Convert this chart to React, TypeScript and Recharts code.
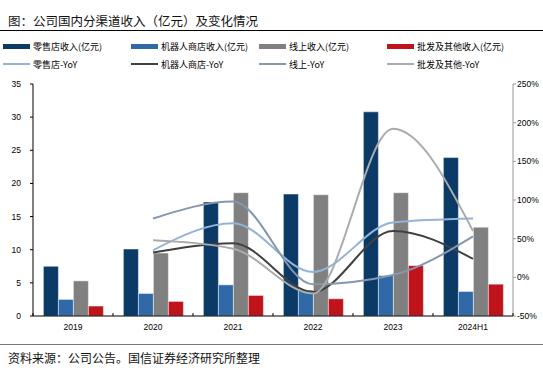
import {
  ComposedChart,
  Bar,
  Line,
  XAxis,
  YAxis,
} from 'recharts';

/* ------------------------------------------------------------------ */
/*  Data                                                               */
/* ------------------------------------------------------------------ */

const YEARS = ['2019', '2020', '2021', '2022', '2023', '2024H1'];

// 收入（亿元）
const RETAIL_REV = [7.5, 10.1, 17.2, 18.4, 30.8, 23.9];
const ROBOT_REV = [2.5, 3.4, 4.7, 3.9, 6.1, 3.7];
const ONLINE_REV = [5.3, 9.5, 18.6, 18.3, 18.6, 13.4];
const WHOLESALE_REV = [1.5, 2.2, 3.1, 2.6, 7.6, 4.8];

// YoY（%）
const RETAIL_YOY = [null, 35, 70, 7, 71, 76];
const ROBOT_YOY = [null, 32, 44, -19, 60, 24];
const ONLINE_YOY = [null, 76, 98, -9, 3, 53];
const WHOLESALE_YOY = [null, 48, 37, -21, 192, 60];

const LEFT_TICKS = [0, 5, 10, 15, 20, 25, 30, 35];
const RIGHT_TICKS = [-50, 0, 50, 100, 150, 200, 250];

const chartData = YEARS.map((year, i) => ({
  year,
  retail: RETAIL_REV[i],
  robot: ROBOT_REV[i],
  online: ONLINE_REV[i],
  wholesale: WHOLESALE_REV[i],
  retailYoy: RETAIL_YOY[i],
  robotYoy: ROBOT_YOY[i],
  onlineYoy: ONLINE_YOY[i],
  wholesaleYoy: WHOLESALE_YOY[i],
}));

/* ------------------------------------------------------------------ */
/*  Series config                                                      */
/* ------------------------------------------------------------------ */

const BARS = [
  { key: 'retail', name: '零售店收入(亿元)', color: '#0B3A67' },
  { key: 'robot', name: '机器人商店收入(亿元)', color: '#2F69A8' },
  { key: 'online', name: '线上收入(亿元)', color: '#808080' },
  { key: 'wholesale', name: '批发及其他收入(亿元)', color: '#C0141D' },
];

const LINES = [
  { key: 'retailYoy', name: '零售店-YoY', color: '#93B3D8' },
  { key: 'robotYoy', name: '机器人商店-YoY', color: '#404040' },
  { key: 'onlineYoy', name: '线上-YoY', color: '#8596AE' },
  { key: 'wholesaleYoy', name: '批发及其他-YoY', color: '#ABABAB' },
];

const LEGEND_X = [3, 131, 259, 387];

const CJK = '"Noto Sans CJK SC", "Noto Sans", sans-serif';
const LATIN = '"Liberation Sans", Arial, sans-serif';

/* ------------------------------------------------------------------ */
/*  X axis tick with category-boundary marks                           */
/* ------------------------------------------------------------------ */

function YearTick(props: any) {
  const { x, y, payload, index } = props;
  const half = payload.offset ?? 40;
  const axisY = y - 8;
  return (
    <g>
      <line x1={x - half} x2={x - half} y1={axisY} y2={axisY - 3} stroke="#000" />
      {index === YEARS.length - 1 && (
        <line x1={x + half} x2={x + half} y1={axisY} y2={axisY - 3} stroke="#000" />
      )}
      <text x={x} y={y + 6} textAnchor="middle" fontSize={8.5} fontFamily={LATIN} fill="#000">
        {payload.value}
      </text>
    </g>
  );
}

/* ------------------------------------------------------------------ */
/*  Component                                                          */
/* ------------------------------------------------------------------ */

export default function App() {
  return (
    <div style={{ position: 'relative', width: 543, height: 368, background: '#fff', fontFamily: CJK }}>
      <style>{'body{margin:0}'}</style>

      {/* title */}
      <div style={{ position: 'absolute', left: 8, top: 12, fontSize: 12.5, lineHeight: '18px', color: '#111' }}>
        图：公司国内分渠道收入（亿元）及变化情况
      </div>
      <div style={{ position: 'absolute', left: 0, top: 30, width: 543, height: 1, background: '#000' }} />

      {/* legend */}
      {[BARS, LINES].map((row, r) =>
        row.map((s, i) => (
          <div
            key={s.key}
            style={{
              position: 'absolute',
              left: LEGEND_X[i],
              top: r === 0 ? 39 : 57,
              height: 14,
              display: 'flex',
              alignItems: 'center',
              fontSize: 9,
              color: '#000',
              whiteSpace: 'nowrap',
            }}
          >
            <span style={{ display: 'inline-block', width: 27, height: r === 0 ? 5 : 2, background: s.color, marginRight: 3 }} />
            {s.name}
          </div>
        ))
      )}

      <div style={{ position: 'absolute', left: 0, top: 0 }}>
        <ComposedChart
          width={543}
          height={368}
          data={chartData}
          margin={{ top: 84, right: 0, bottom: 0, left: 0 }}
          barCategoryGap="13%"
          barGap={0}
        >
          <XAxis
            dataKey="year"
            height={52}
            axisLine={{ stroke: '#000' }}
            tickLine={false}
            tick={<YearTick />}
            interval={0}
          />
          <YAxis
            yAxisId="left"
            width={33}
            domain={[0, 35]}
            ticks={LEFT_TICKS}
            interval={0}
            axisLine={{ stroke: '#000' }}
            tickLine={{ stroke: '#000' }}
            tickSize={3}
            tick={{ fontSize: 8.5, fontFamily: LATIN, fill: '#000' }}
            tickMargin={9}
          />
          <YAxis
            yAxisId="right"
            orientation="right"
            width={30}
            domain={[-50, 250]}
            ticks={RIGHT_TICKS}
            interval={0}
            axisLine={{ stroke: '#999' }}
            tickLine={{ stroke: '#999' }}
            tickSize={3}
            tickMargin={1}
            tickFormatter={(v: number) => `${v}%`}
            tick={{ fontSize: 8.5, fontFamily: LATIN, fill: '#000' }}
          />

          {BARS.map((b) => (
            <Bar
              key={b.key}
              yAxisId="left"
              dataKey={b.key}
              name={b.name}
              fill={b.color}
              stroke="#ffffff"
              strokeOpacity={0.45}
              strokeWidth={1}
              isAnimationActive={false}
            />
          ))}

          {LINES.map((l) => (
            <Line
              key={l.key}
              yAxisId="right"
              type="monotone"
              dataKey={l.key}
              name={l.name}
              stroke={l.color}
              strokeWidth={2}
              dot={false}
              activeDot={false}
              isAnimationActive={false}
            />
          ))}
        </ComposedChart>
      </div>

      {/* source */}
      <div style={{ position: 'absolute', left: 0, top: 344, width: 543, height: 1, background: '#777' }} />
      <div style={{ position: 'absolute', left: 8, top: 349, fontSize: 12, lineHeight: '18px', color: '#111' }}>
        资料来源：公司公告。国信证券经济研究所整理
      </div>
    </div>
  );
}
